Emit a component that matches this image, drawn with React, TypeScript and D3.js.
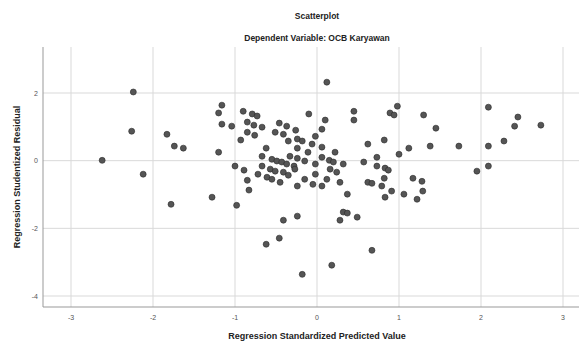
import React, { useEffect, useRef } from 'react'
import * as d3 from 'd3'

// Regression Standardized Predicted Value
const predicted = [
  -2.62, -2.24, -2.26, -2.12, -1.83, -1.74, -1.63, -1.78, -1.28,
  -1.16, -1.2, -1.16, -1.04, -1.2, -0.9, -0.79, -0.73, -0.85, -0.77, -0.67,
  -0.85, -0.76, -0.93, -0.46, -0.37, -0.26, -0.51, -0.41, -0.24, -0.18,
  -0.62, -0.24, -0.67, -0.33, -0.55, -0.49, -0.43, -0.37, -0.28, -0.67,
  -1.0, -0.89, -0.57, -0.51, -0.72, -0.61, -0.55, -0.41, -0.35, -0.85,
  -0.45, -0.24, -0.98, -0.83, -0.41, -0.24, -0.46, -0.62, -0.18, -0.35,
  -0.24, -0.27,
  0.12, -0.1, 0.45, 0.45, 0.1, 0.06, -0.02, -0.06, 0.06, 0.22, -0.11, 0.06,
  0.15, 0.2, -0.15, -0.02, 0.32, 0.16, 0.24, -0.02, 0.12, -0.15, 0.28, -0.05,
  0.06, 0.37, 0.32, 0.37, 0.28, 0.49, 0.18, 0.67,
  0.98, 0.89, 0.94, 1.3, 1.45, 0.82, 0.62, 1.12, 1.0, 1.38, 0.73, 0.57, 0.73,
  0.83, 0.87, 0.62, 0.67, 0.82, 0.79, 0.91, 0.83, 1.17, 1.28, 1.29, 1.22, 1.06,
  1.73, 2.09, 2.09, 2.28, 2.45, 2.41, 2.73, 2.09, 1.95,
]

// Regression Studentized Residual
const residual = [
  0.01, 2.03, 0.87, -0.4, 0.78, 0.43, 0.37, -1.29, -1.08,
  1.64, 1.41, 1.08, 1.02, 0.25, 1.46, 1.38, 1.32, 1.14, 1.05, 0.99,
  0.84, 0.75, 0.61, 1.11, 1.02, 0.9, 0.84, 0.78, 0.64, 0.58,
  0.37, 0.37, 0.13, 0.13, 0.04, -0.01, -0.04, -0.1, -0.16, -0.16,
  -0.16, -0.28, -0.25, -0.31, -0.4, -0.49, -0.55, -0.34, -0.43, -0.58,
  -0.64, -0.75, -1.32, -0.87, -1.76, -1.64, -2.29, -2.47, -3.36, 0.58,
  0.07, -0.25,
  2.32, 1.38, 1.46, 1.2, 1.2, 0.93, 0.72, 0.49, 0.4, 0.25, 0.25, 0.1,
  0.01, -0.04, -0.01, -0.1, -0.1, -0.25, -0.34, -0.4, -0.55, -0.55, -0.64, -0.7,
  -0.75, -0.99, -1.52, -1.55, -1.76, -1.67, -3.09, -2.65,
  1.61, 1.41, 1.35, 1.35, 0.96, 0.61, 0.49, 0.37, 0.19, 0.43, 0.1, -0.04, -0.16,
  -0.22, -0.28, -0.64, -0.67, -0.52, -0.75, -0.9, -1.08, -0.52, -0.61, -0.9, -1.14, -0.99,
  0.43, 1.58, 0.43, 0.58, 1.29, 1.02, 1.05, -0.16, -0.31,
]

const xTicks = [-3, -2, -1, 0, 1, 2, 3]
const yTicks = [2, 0, -2, -4]

const title = 'Scatterplot'
const subtitle = 'Dependent Variable: OCB Karyawan'
const xTitle = 'Regression Standardized Predicted Value'
const yTitle = 'Regression Studentized Residual'

export default function App() {
  const svgRef = useRef<SVGSVGElement>(null)

  useEffect(() => {
    document.body.style.margin = '0'
    const width = 579
    const height = 342
    const left = 43, right = 579, top = 47, bottom = 307

    const svg = d3.select(svgRef.current)
    svg.selectAll('*').remove()
    svg.attr('width', width).attr('height', height)
      .style('font-family', 'Liberation Sans, Arial, sans-serif')

    const x = d3.scaleLinear().domain([-3, 3]).range([71, 563])
    const y = d3.scaleLinear().domain([2, -4]).range([93, 296])

    svg.append('rect').attr('width', width).attr('height', height).attr('fill', '#fff')

    // grid
    svg.append('g').selectAll('line').data(xTicks).join('line')
      .attr('x1', d => x(d)).attr('x2', d => x(d))
      .attr('y1', top).attr('y2', bottom)
      .attr('stroke', '#d9d9d9').attr('stroke-width', 1)
    svg.append('g').selectAll('line').data(yTicks).join('line')
      .attr('x1', left).attr('x2', right)
      .attr('y1', d => y(d)).attr('y2', d => y(d))
      .attr('stroke', '#d9d9d9').attr('stroke-width', 1)

    // axes lines
    svg.append('line').attr('x1', left).attr('x2', left).attr('y1', top).attr('y2', bottom)
      .attr('stroke', '#999')
    svg.append('line').attr('x1', left).attr('x2', right).attr('y1', bottom).attr('y2', bottom)
      .attr('stroke', '#999')

    // tick labels
    svg.append('g').selectAll('text').data(xTicks).join('text')
      .attr('x', d => x(d)).attr('y', 320)
      .attr('text-anchor', 'middle').attr('font-size', 7).attr('fill', '#555')
      .text(d => String(d))
    svg.append('g').selectAll('text').data(yTicks).join('text')
      .attr('x', 38).attr('y', d => y(d) + 2.5)
      .attr('text-anchor', 'end').attr('font-size', 7).attr('fill', '#555')
      .text(d => String(d))

    // titles
    svg.append('text').attr('x', 317).attr('y', 19).attr('text-anchor', 'middle')
      .attr('font-size', 8.5).attr('font-weight', 'bold').attr('fill', '#222').text(title)
    svg.append('text').attr('x', 317).attr('y', 41).attr('text-anchor', 'middle')
      .attr('font-size', 8.5).attr('font-weight', 'bold').attr('fill', '#222').text(subtitle)
    svg.append('text').attr('x', 317).attr('y', 339).attr('text-anchor', 'middle')
      .attr('font-size', 9).attr('font-weight', 'bold').attr('fill', '#222').text(xTitle)
    svg.append('text').attr('transform', 'translate(20,177) rotate(-90)').attr('text-anchor', 'middle')
      .attr('font-size', 9).attr('font-weight', 'bold').attr('fill', '#222').text(yTitle)

    // points
    const pts = predicted.map((p, i) => [p, residual[i]])
    svg.append('g').selectAll('circle').data(pts).join('circle')
      .attr('cx', d => x(d[0])).attr('cy', d => y(d[1])).attr('r', 3)
      .attr('fill', '#555').attr('stroke', '#2a2a2a').attr('stroke-width', 0.6)
  }, [])

  return <svg ref={svgRef}></svg>
}
